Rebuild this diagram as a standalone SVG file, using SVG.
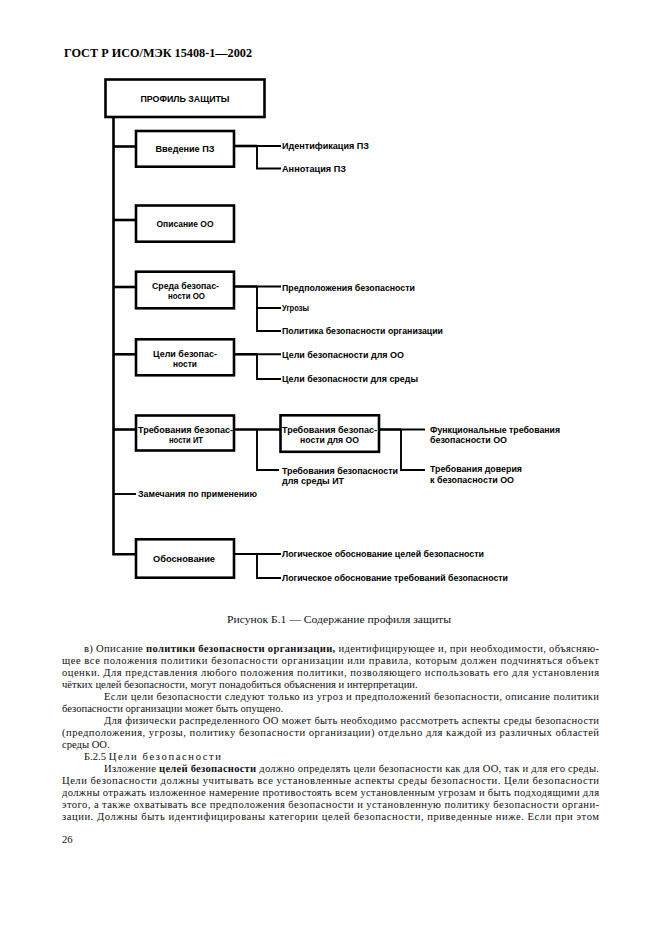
<svg xmlns="http://www.w3.org/2000/svg" width="661" height="936" viewBox="0 0 661 936">
<style>
.box{fill:#fff;stroke:#000;stroke-width:2.6}
.t{font-family:"Liberation Sans",Arial,sans-serif;font-size:8.6px;font-weight:bold;fill:#000}
.m{text-anchor:middle}
.c{fill:none;stroke:#000;stroke-width:2.6;stroke-linejoin:miter}
.b{fill:none;stroke:#000;stroke-width:1.9}
.s{font-family:"Liberation Serif","Times New Roman",serif;font-size:10.6px;fill:#111}
.h{font-family:"Liberation Serif","Times New Roman",serif;font-size:11.5px;font-weight:bold;fill:#000}
</style>
<rect width="661" height="936" fill="#fff"/>
<text class="h" x="64" y="57" textLength="188" lengthAdjust="spacingAndGlyphs">ГОСТ Р ИСО/МЭК 15408-1—2002</text>

<g id="connectors">
<path class="c" d="M113.5 117 V554.3 H136"/>
<path class="c" d="M113.5 146.5 H136"/>
<path class="c" d="M113.5 220 H136"/>
<path class="c" d="M113.5 287 H136"/>
<path class="c" d="M113.5 354.3 H136"/>
<path class="c" d="M113.5 429.5 H136"/>
<path class="b" d="M113.5 494 H136"/>
<path class="c" d="M234 146 H257"/>
<path class="b" d="M257 146 H281 M257 146 V168.5 H281"/>
<path class="c" d="M234 286.5 H257"/>
<path class="b" d="M257 286.5 H281 M257 286.5 V331 H281 M257 308 H281"/>
<path class="c" d="M234 354.3 H257"/>
<path class="b" d="M257 354.3 H281 M257 354.3 V379 H281"/>
<path class="c" d="M234 429.5 H280.5"/>
<path class="b" d="M257 429.5 V470 H279"/>
<path class="c" d="M379 429.5 H401"/>
<path class="b" d="M401 429.5 H425 M401 429.5 V470 H425"/>
<path class="b" d="M234 554 H281 M257 554 V578 H281"/>
</g>

<g id="n-profile"><rect class="box" x="105.5" y="79.5" width="159" height="37.5"/><text class="t m" x="185" y="101.5" textLength="89" lengthAdjust="spacingAndGlyphs">ПРОФИЛЬ ЗАЩИТЫ</text></g>
<g id="n-intro"><rect class="box" x="136" y="131" width="98" height="35.7"/><text class="t m" x="185" y="152" textLength="59" lengthAdjust="spacingAndGlyphs">Введение ПЗ</text></g>
<g id="n-ident"><text class="t" x="282" y="148.7" textLength="87" lengthAdjust="spacingAndGlyphs">Идентификация ПЗ</text></g>
<g id="n-annot"><text class="t" x="282" y="171.5" textLength="64" lengthAdjust="spacingAndGlyphs">Аннотация ПЗ</text></g>
<g id="n-desc"><rect class="box" x="136" y="205.5" width="98" height="36.2"/><text class="t m" x="185" y="227" textLength="57" lengthAdjust="spacingAndGlyphs">Описание ОО</text></g>
<g id="n-env"><rect class="box" x="136" y="271.7" width="98" height="36.6"/><text class="t m" x="185.5" y="289" textLength="67" lengthAdjust="spacingAndGlyphs">Среда безопас-</text><text class="t m" x="186.5" y="299" textLength="37" lengthAdjust="spacingAndGlyphs">ности ОО</text></g>
<g id="n-assump"><text class="t" x="282" y="290.5" textLength="133" lengthAdjust="spacingAndGlyphs">Предположения безопасности</text></g>
<g id="n-threats"><text class="t" x="282" y="311" textLength="27" lengthAdjust="spacingAndGlyphs">Угрозы</text></g>
<g id="n-policy"><text class="t" x="282" y="334" textLength="161" lengthAdjust="spacingAndGlyphs">Политика безопасности организации</text></g>
<g id="n-obj"><rect class="box" x="136" y="339.3" width="98" height="36"/><text class="t m" x="185" y="356.5" textLength="64" lengthAdjust="spacingAndGlyphs">Цели безопас-</text><text class="t m" x="185" y="366.5" textLength="24" lengthAdjust="spacingAndGlyphs">ности</text></g>
<g id="n-obj-toe"><text class="t" x="282" y="357.5" textLength="122" lengthAdjust="spacingAndGlyphs">Цели безопасности для ОО</text></g>
<g id="n-obj-env"><text class="t" x="282" y="382" textLength="136" lengthAdjust="spacingAndGlyphs">Цели безопасности для среды</text></g>
<g id="n-itreq"><rect class="box" x="136" y="415.5" width="98" height="35"/><text class="t m" x="185.5" y="432.5" textLength="95" lengthAdjust="spacingAndGlyphs">Требования безопас-</text><text class="t m" x="186" y="443" textLength="34" lengthAdjust="spacingAndGlyphs">ности ИТ</text></g>
<g id="n-toereq"><rect class="box" x="280.5" y="415.3" width="98.5" height="36.5"/><text class="t m" x="329.5" y="432.5" textLength="95" lengthAdjust="spacingAndGlyphs">Требования безопас-</text><text class="t m" x="329.5" y="442.5" textLength="59" lengthAdjust="spacingAndGlyphs">ности для ОО</text></g>
<g id="n-func"><text class="t" x="430" y="433" textLength="130" lengthAdjust="spacingAndGlyphs">Функциональные требования</text><text class="t" x="430" y="443" textLength="77" lengthAdjust="spacingAndGlyphs">безопасности ОО</text></g>
<g id="n-envreq"><text class="t" x="282" y="474" textLength="116" lengthAdjust="spacingAndGlyphs">Требования безопасности</text><text class="t" x="282" y="484" textLength="62" lengthAdjust="spacingAndGlyphs">для среды ИТ</text></g>
<g id="n-assur"><text class="t" x="430" y="472" textLength="92" lengthAdjust="spacingAndGlyphs">Требования доверия</text><text class="t" x="430" y="483" textLength="84" lengthAdjust="spacingAndGlyphs">к безопасности ОО</text></g>
<g id="n-notes"><text class="t" x="138" y="497" textLength="119" lengthAdjust="spacingAndGlyphs">Замечания по применению</text></g>
<g id="n-rationale"><rect class="box" x="136" y="539.3" width="98" height="38.4"/><text class="t m" x="184" y="561.5" textLength="62" lengthAdjust="spacingAndGlyphs">Обоснование</text></g>
<g id="n-rat-obj"><text class="t" x="282" y="557" textLength="202" lengthAdjust="spacingAndGlyphs">Логическое обоснование целей безопасности</text></g>
<g id="n-rat-req"><text class="t" x="282" y="581" textLength="226" lengthAdjust="spacingAndGlyphs">Логическое обоснование требований безопасности</text></g>

<text class="s" x="227" y="623" textLength="224" lengthAdjust="spacingAndGlyphs">Рисунок Б.1 — Содержание профиля защиты</text>

<g id="body">
<text class="s" x="84" y="651.5" textLength="515" lengthAdjust="spacing">в)  Описание <tspan font-weight="bold">политики безопасности организации,</tspan> идентифицирующее и, при необходимости, объясняю-</text>
<text class="s" x="62" y="663.5" textLength="537" lengthAdjust="spacing">щее все положения политики безопасности организации или правила, которым должен подчиняться объект</text>
<text class="s" x="62" y="675.5" textLength="537" lengthAdjust="spacing">оценки. Для представления любого положения политики, позволяющего использовать его для установления</text>
<text class="s" x="62" y="687.5">чётких целей безопасности, могут понадобиться объяснения и интерпретации.</text>
<text class="s" x="104" y="699.5" textLength="495" lengthAdjust="spacing">Если цели безопасности следуют только из угроз и предположений безопасности, описание политики</text>
<text class="s" x="62" y="711.5">безопасности организации может быть опущено.</text>
<text class="s" x="104" y="723.5" textLength="495" lengthAdjust="spacing">Для физически распределенного ОО может быть необходимо рассмотреть аспекты среды безопасности</text>
<text class="s" x="62" y="735.5" textLength="537" lengthAdjust="spacing">(предположения, угрозы, политику безопасности организации) отдельно для каждой из различных областей</text>
<text class="s" x="62" y="747.5">среды ОО.</text>
<text class="s" x="84" y="759.5">Б.2.5 <tspan letter-spacing="1.6">Цели безопасности</tspan></text>
<text class="s" x="104" y="771.5" textLength="495" lengthAdjust="spacing">Изложение <tspan font-weight="bold">целей безопасности</tspan> должно определять цели безопасности как для ОО, так и для его среды.</text>
<text class="s" x="62" y="783.5" textLength="537" lengthAdjust="spacing">Цели безопасности должны учитывать все установленные аспекты среды безопасности. Цели безопасности</text>
<text class="s" x="62" y="795.5" textLength="537" lengthAdjust="spacing">должны отражать изложенное намерение противостоять всем установленным угрозам и быть подходящими для</text>
<text class="s" x="62" y="807.5" textLength="537" lengthAdjust="spacing">этого, а также охватывать все предположения безопасности и установленную политику безопасности органи-</text>
<text class="s" x="62" y="819.5" textLength="537" lengthAdjust="spacing">зации. Должны быть идентифицированы категории целей безопасности, приведенные ниже. Если при этом</text>
<text class="s" x="62" y="843">26</text>
</g>
</svg>
